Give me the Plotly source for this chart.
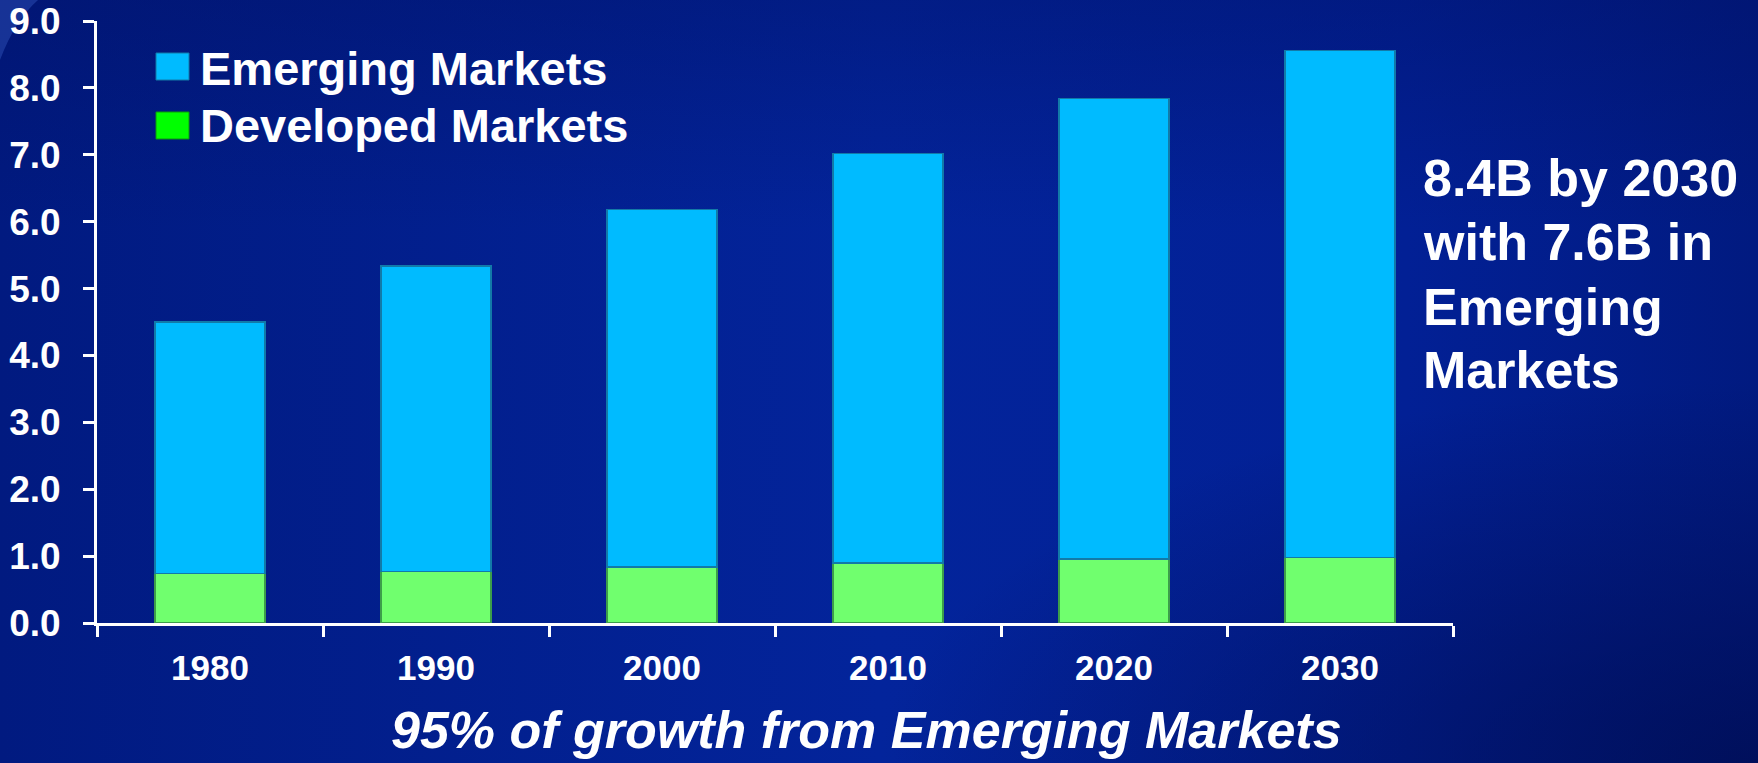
import base64
import plotly.graph_objects as go

# Population (billions) by decade
years = ["1980", "1990", "2000", "2010", "2020", "2030"]
developed = [0.74, 0.77, 0.84, 0.90, 0.96, 0.98]
emerging = [3.76, 4.57, 5.34, 6.12, 6.88, 7.58]
y_ticks = [0, 1, 2, 3, 4, 5, 6, 7, 8, 9]
series_names = ["Emerging Markets", "Developed Markets"]
side_note = ["8.4B by 2030", "with 7.6B in", "Emerging", "Markets"]
footer = "95% of growth from Emerging Markets"

FONT = "Liberation Sans, Arial, Helvetica, sans-serif"
W, H = 1758, 763
L, R, T, B = 97, 305, 21, 140
PW = W - L - R
PH = H - T - B


def px(x):
    """Canvas pixel x -> paper x."""
    return (x - L) / PW


def py(y):
    """Canvas pixel y (from top) -> paper y."""
    return (H - B - y) / PH


# Slide-style deep blue background
svg = f'''<svg xmlns="http://www.w3.org/2000/svg" width="{W}" height="{H}" viewBox="0 0 {W} {H}" preserveAspectRatio="none">
<defs>
<linearGradient id="g" x1="0" y1="0" x2="1" y2="0">
<stop offset="0" stop-color="#011a80"/>
<stop offset="0.5" stop-color="#03249b"/>
<stop offset="0.8" stop-color="#022095"/>
<stop offset="1" stop-color="#011a80"/>
</linearGradient>
<radialGradient id="v" cx="1" cy="1" r="0.5">
<stop offset="0" stop-color="#000c50" stop-opacity="0.75"/>
<stop offset="1" stop-color="#000c50" stop-opacity="0"/>
</radialGradient>
<linearGradient id="t" x1="0" y1="0" x2="0" y2="1">
<stop offset="0" stop-color="#000f60" stop-opacity="0.35"/>
<stop offset="0.3" stop-color="#000f60" stop-opacity="0"/>
</linearGradient>
</defs>
<rect width="{W}" height="{H}" fill="url(#g)"/>
<rect width="{W}" height="{H}" fill="url(#t)"/>
<rect width="{W}" height="{H}" fill="url(#v)"/>
<path d="M0,60 Q15,20 38,0 L0,0 Z" fill="#2a4ab0" opacity="0.55"/>
</svg>'''
bg_uri = "data:image/svg+xml;base64," + base64.b64encode(svg.encode()).decode()

fig = go.Figure()
fig.add_trace(go.Bar(
    x=years, y=developed, name=series_names[1],
    marker=dict(color="#70ff6e", line=dict(color="#3c9e4a", width=1.5)),
))
fig.add_trace(go.Bar(
    x=years, y=emerging, name=series_names[0],
    marker=dict(color="#00bbff", line=dict(color="#127aa8", width=1.5)),
))

# Legend drawn as swatches + labels
swatches = [
    (series_names[0], "#00bbff", "#127aa8", 53, 80, 68),
    (series_names[1], "#00ff00", "#0a9a0a", 112, 139, 125),
]
shapes = []
annotations = []
for name, fill, edge, y0, y1, yc in swatches:
    shapes.append(dict(
        type="rect", xref="paper", yref="paper",
        x0=px(156), x1=px(189), y0=py(y1), y1=py(y0),
        fillcolor=fill, line=dict(color=edge, width=1),
    ))
    annotations.append(dict(
        text=name, xref="paper", yref="paper", x=px(198), y=py(yc),
        xanchor="left", yanchor="middle", showarrow=False,
        font=dict(family=FONT, size=47, color="white", weight="bold"),
    ))

for line, yc in zip(side_note, [178, 242, 307, 370]):
    annotations.append(dict(
        text=line, xref="paper", yref="paper", x=px(1421), y=py(yc),
        xanchor="left", yanchor="middle", showarrow=False,
        font=dict(family=FONT, size=52, color="white", weight="bold"),
    ))

annotations.append(dict(
    text=footer, xref="paper", yref="paper", x=px(866), y=py(730),
    xanchor="center", yanchor="middle", showarrow=False,
    font=dict(family=FONT, size=52, color="white", weight="bold", style="italic"),
))

fig.update_layout(
    width=W, height=H, autosize=False,
    margin=dict(l=L, r=R, t=T, b=B, pad=0, autoexpand=False),
    barmode="stack", bargap=0.513,
    showlegend=False,
    paper_bgcolor="#02208f", plot_bgcolor="rgba(0,0,0,0)",
    font=dict(family=FONT, color="white"),
    images=[dict(
        source=bg_uri, xref="paper", yref="paper",
        x=px(0), y=py(0), sizex=W / PW, sizey=H / PH,
        xanchor="left", yanchor="top", sizing="stretch", layer="below",
    )],
    shapes=shapes,
    annotations=annotations,
    xaxis=dict(
        type="category", range=[-0.5, 5.5], tickson="boundaries",
        ticks="outside", ticklen=11, tickwidth=3, tickcolor="white",
        showline=True, linewidth=3, linecolor="white", showgrid=False,
        tickfont=dict(family=FONT, size=35, color="white", weight="bold"),
        ticklabelstandoff=12, automargin=False,
    ),
    yaxis=dict(
        range=[0, 9], tickvals=y_ticks, ticktext=[f"{v:.1f}" for v in y_ticks],
        ticks="outside", ticklen=11, tickwidth=3, tickcolor="white",
        showline=True, linewidth=3, linecolor="white", showgrid=False,
        zeroline=False,
        tickfont=dict(family=FONT, size=37, color="white", weight="bold"),
        ticklabelstandoff=15, automargin=False,
    ),
)

fig.write_html("out.html")
